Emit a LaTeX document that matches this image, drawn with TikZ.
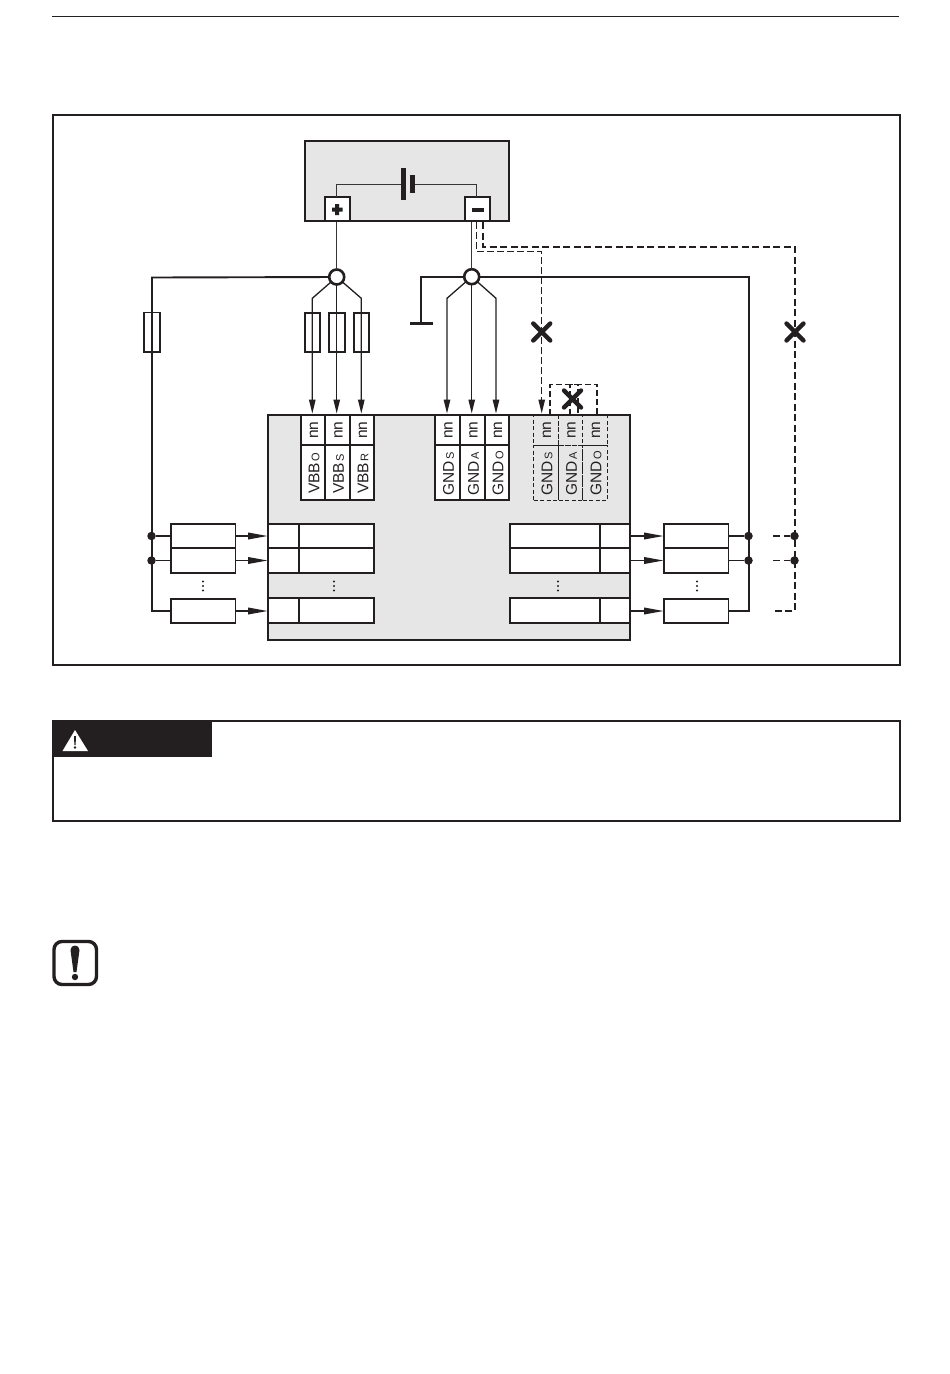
\documentclass[tikz,border=0pt]{standalone}
\usepackage{fontspec}
\setmainfont{Liberation Sans}
\usetikzlibrary{arrows.meta}
\definecolor{ink}{HTML}{231F20}
\definecolor{panel}{HTML}{E6E6E6}
\tikzset{
  box/.style={draw=ink,line width=1.9pt,fill=white,rectangle,inner sep=0pt,outer sep=0pt},
  graybox/.style={box,fill=panel},
  dashbox/.style={draw=ink,line width=.9pt,dash pattern=on 4pt off 2.5pt,fill=none,rectangle,inner sep=0pt,outer sep=0pt},
  wire/.style={draw=ink,line width=1.9pt},
  thin wire/.style={draw=ink!90,line width=1.4pt},
  darrow/.style={draw=ink,line width=1.3pt,-{Stealth[length=14pt,width=6.5pt,inset=0pt]}},
  harrow/.style={draw=ink,line width=1.9pt,-{Stealth[length=20pt,width=6.5pt,inset=0pt]}},
  dthick/.style={draw=ink,line width=1.9pt,dash pattern=on 7pt off 3.5pt},
  dthin/.style={draw=ink,line width=1.4pt,dash pattern=on 7pt off 3pt},
  hub/.style={circle,draw=ink,line width=2.6pt,fill=white,minimum size=15pt,inner sep=0pt,outer sep=0pt},
  jdot/.style={circle,fill=ink,minimum size=8.5pt,inner sep=0pt,outer sep=0pt},
  edot/.style={circle,fill=ink,minimum size=2.2pt,inner sep=0pt},
  crossmark/.style={draw=ink,line width=4.4pt,line cap=round},
  vlabel/.style={rotate=90,inner sep=0pt,text=ink,anchor=center}
}
% name, x1, y1, x2, y2, style
\newcommand{\bx}[6]{%
  \pgfmathsetmacro{\bxw}{#4-(#2)}\pgfmathsetmacro{\bxh}{#5-(#3)}%
  \pgfmathsetmacro{\bxx}{(#2+#4)/2}\pgfmathsetmacro{\bxy}{(#3+#5)/2}%
  \node[#6,minimum width=\bxw pt,minimum height=\bxh pt] (#1) at (\bxx,\bxy) {};}
\newcommand{\crossat}[2]{\draw[crossmark] (#1-8.5,#2-8.5) -- (#1+8.5,#2+8.5) (#1-8.5,#2+8.5) -- (#1+8.5,#2-8.5);}
\newcommand{\vdotsat}[2]{\node[edot] at (#1,#2-4.5) {};\node[edot] at (#1,#2) {};\node[edot] at (#1,#2+4.5) {};}
\newcommand{\term}[4]{\node[vlabel,font=\fontsize{15.5pt}{16pt}\selectfont] at (#1,430) {nn};
  \node[vlabel,anchor=west,font=\fontsize{15.5pt}{16pt}\selectfont] at (#1,#4) {#2{\fontsize{11pt}{12pt}\selectfont\kern1.5pt #3}};}
\begin{document}
\begin{tikzpicture}[x=1pt,y=-1pt]
\useasboundingbox (0,0) rectangle (950,1374);
\fill[white] (0,0) rectangle (950,1374);
% page rule
\coordinate (ruleL) at (52,16); \coordinate (ruleR) at (899,16);
\draw[draw=ink,line width=.8pt] (ruleL) -- (ruleR);
% frame
\bx{frame}{53}{115}{900}{665}{box}
% power panel
\bx{psu}{305}{141}{509}{221}{graybox}
\bx{plus}{325}{197}{350}{221}{box}
\bx{minus}{465}{197}{490}{221}{box}
\fill[ink] (332,207.5) rectangle (342.5,211.5) (335.2,204) rectangle (339.2,215);
\fill[ink] (471.5,207.5) rectangle (483.5,211.5);
% battery
\coordinate (batL) at (403.3,184.3); \coordinate (batR) at (412.3,184.3);
\coordinate (plusT) at (336.7,197); \coordinate (minusT) at (476.7,197);
\draw[thin wire] (plusT) -- (336.7,184.3) -- (batL);
\draw[thin wire] (minusT) -- (476.7,184.3) -- (batR);
\fill[ink] (401,167.7) rectangle (405.6,200);
\fill[ink] (410,175) rectangle (414.6,193);
% main chip
\bx{chip}{268}{415}{630}{640}{graybox}
% hubs
\node[hub] (hubA) at (336.7,277) {};
\node[hub] (hubB) at (471.7,276.7) {};
% fuses
\coordinate (lw1) at (152,277.5); \coordinate (lw2) at (152,611);
\bx{lbox3}{171}{599}{235.5}{623}{box}
\bx{fuse0}{144}{312.5}{160}{352}{box}
\draw[wire] (hubA) -- (lw1) -- (lw2) -- (lbox3.west);
% fan A
\coordinate (fa1) at (312.3,298.3); \coordinate (fa2) at (361.3,298.3);
\coordinate (ta1) at (312.3,413.5); \coordinate (ta2) at (336.7,413.5); \coordinate (ta3) at (361.3,413.5);
\coordinate (plusB) at (336.7,222);
\draw[thin wire] (plusB) -- (hubA);
\draw[darrow] (hubA) -- (fa1) -- (ta1);
\draw[darrow] (hubA) -- (ta2);
\draw[darrow] (hubA) -- (fa2) -- (ta3);
\bx{fuse1}{305}{312.7}{320.3}{352}{box,fill=none}
\bx{fuse2}{328.7}{312.7}{345.3}{352}{box,fill=none}
\bx{fuse3}{353.7}{312.7}{369.3}{352}{box,fill=none}
% fan B
\coordinate (fb1) at (447,298.3); \coordinate (fb2) at (496,298.3);
\coordinate (tb1) at (447,413.5); \coordinate (tb2) at (471.7,413.5); \coordinate (tb3) at (496,413.5);
\coordinate (minusB) at (471.7,222);
\draw[thin wire] (minusB) -- (hubB);
\draw[darrow] (hubB) -- (fb1) -- (tb1);
\draw[darrow] (hubB) -- (tb2);
\draw[darrow] (hubB) -- (fb2) -- (tb3);
% earth
\coordinate (gnd) at (421,323.3);
\draw[wire] (hubB) -- (421,276.7) -- (gnd);
\draw[draw=ink,line width=2.4pt] (410,323.3) -- (432.7,323.3);
% right rail
\bx{rbox3}{664}{599}{728.5}{623}{box}
\draw[wire] (hubB) -- (749,276.7) -- (749,611) -- (rbox3.east);
% dashed
\coordinate (dA) at (476.7,222);
\coordinate (dB) at (483.3,222);
\draw[dthin] (dA) -- (476.7,251.3) -- (541.7,251.3) -- (541.7,402);
\draw[dthick] (dB) -- (483.3,247) -- (795,247) -- (795,611) -- (773,611);
\coordinate (dAend) at (541.7,413.5);
\draw[darrow] (541.7,400) -- (dAend);
\crossat{541.7}{332}
\crossat{795}{332}
% loop
\draw[dthick,dash pattern=on 6pt off 3pt] (550,415) -- (550,384.5) -- (578,384.5) -- (578,415);
\draw[dthick,dash pattern=on 6pt off 3pt] (570,415) -- (570,384.5) -- (597,384.5) -- (597,415);
\crossat{572.5}{399}
% terminals upper
\foreach \n/\a/\b in {v1/300.7/325.3,v2/325.3/350,v3/350/374.3,g1/435/460,g2/460/485.3,g3/485.3/509}{
  \bx{\n a}{\a}{415}{\b}{445}{box}
  \bx{\n b}{\a}{445}{\b}{500}{box}
}
\foreach \n/\a/\b in {h1/533.7/558.7,h2/558.7/582.7,h3/582.7/607.7}{
  \bx{\n a}{\a}{415}{\b}{445}{dashbox}
  \bx{\n b}{\a}{445}{\b}{500}{dashbox}
}
\draw[draw=ink,line width=1.9pt] (268,415) -- (630,415);
\term{314}{VBB}{O}{494}
\term{338.5}{VBB}{S}{494}
\term{363}{VBB}{R}{494}
\term{448.5}{GND}{S}{496}
\term{473.5}{GND}{A}{496}
\term{498}{GND}{O}{496}
\term{547}{GND}{S}{496}
\term{571.5}{GND}{A}{496}
\term{596}{GND}{O}{496}
% lower left
\bx{lbox1}{171}{524}{235.5}{548}{box}
\bx{lbox2}{171}{548}{235.5}{573}{box}
\bx{lc1}{268}{524}{299}{548}{box}
\bx{lc2}{268}{548}{299}{573}{box}
\bx{lc3}{268}{598}{299}{623}{box}
\bx{ld1}{299}{524}{374}{548}{box}
\bx{ld2}{299}{548}{374}{573}{box}
\bx{ld3}{299}{598}{374}{623}{box}
\node[jdot] (jl1) at (151.5,536) {};
\node[jdot] (jl2) at (151.5,560.5) {};
\draw[wire] (jl1) -- (lbox1.west);
\draw[wire] (jl2) -- (lbox2.west);
\draw[harrow] (lbox1.east) -- (lc1.west);
\draw[harrow] (lbox2.east) -- (lc2.west);
\draw[harrow] (lbox3.east) -- (lc3.west |- lbox3.east);
\vdotsat{203}{586}
\vdotsat{334}{586}
% lower right
\bx{rd1}{510}{524}{600}{548}{box}
\bx{rd2}{510}{548}{600}{573}{box}
\bx{rd3}{510}{598}{600}{623}{box}
\bx{rc1}{600}{524}{630}{548}{box}
\bx{rc2}{600}{548}{630}{573}{box}
\bx{rc3}{600}{598}{630}{623}{box}
\bx{rbox1}{664}{524}{728.5}{548}{box}
\bx{rbox2}{664}{548}{728.5}{573}{box}
\node[jdot] (jr1) at (748.5,536) {};
\node[jdot] (jr2) at (748.5,560.5) {};
\node[jdot] (jd1) at (794.5,536) {};
\node[jdot] (jd2) at (794.5,560.5) {};
\draw[wire] (rbox1.east) -- (jr1);
\draw[wire] (rbox2.east) -- (jr2);
\draw[harrow] (rc1.east) -- (rbox1.west);
\draw[harrow] (rc2.east) -- (rbox2.west);
\draw[harrow] (rc3.east |- rbox3.west) -- (rbox3.west);
\coordinate (ds1) at (773,536); \coordinate (ds2) at (773,560.5);
\draw[dthick] (ds1) -- (jd1);
\draw[dthick] (ds2) -- (jd2);
\vdotsat{558}{586}
\vdotsat{697}{586}
% warning box
\bx{warn}{53}{721}{900}{821}{box,fill=none}
\bx{tab}{52}{720}{212}{757}{draw=none,fill=ink,rectangle,inner sep=0pt,outer sep=0pt}
\fill[white] (75,730) -- (88,751) -- (62.5,751) -- cycle;
\fill[ink] (74,736) -- (76,736) -- (75.6,745) -- (74.4,745) -- cycle;
\fill[ink] (75,747.5) circle (1.3);
% note icon
\coordinate (ic1) at (54,941.5); \coordinate (ic2) at (96.5,984.5);
\draw[draw=ink,line width=3.4pt,rounded corners=8pt] (ic1) rectangle (ic2);
\fill[ink] (70.5,950) .. controls (70.5,944) and (79.5,944) .. (79.5,950) -- (76.5,972) -- (73.5,972) -- cycle;
\fill[ink] (75,977) circle (3.2);
\end{tikzpicture}
\end{document}
